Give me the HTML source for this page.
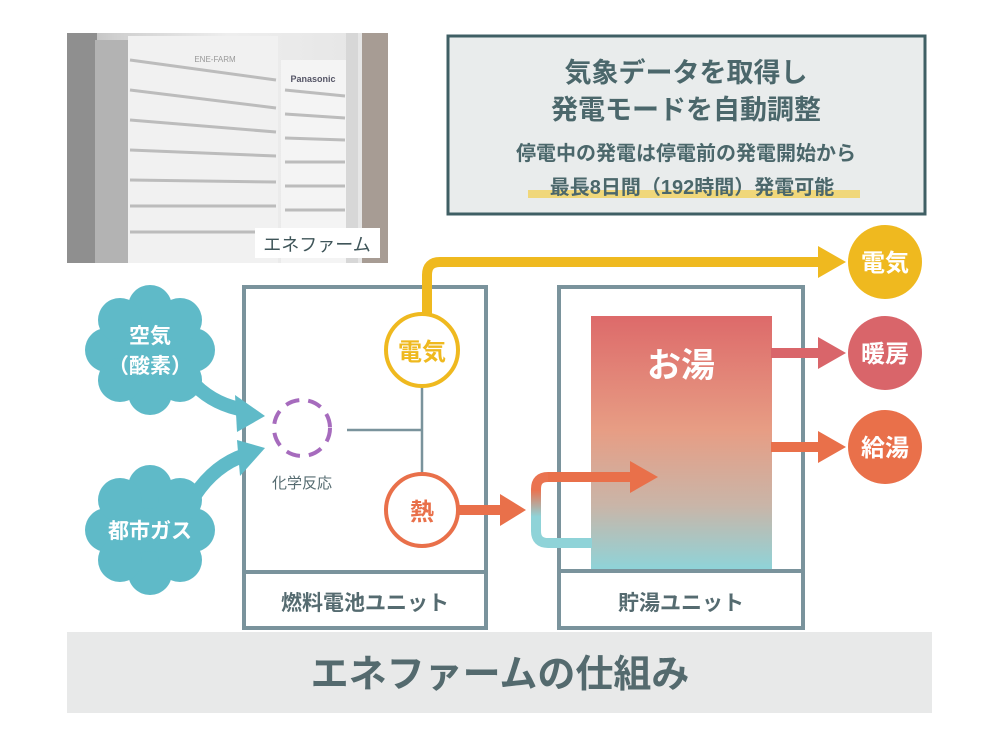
<!DOCTYPE html>
<html><head><meta charset="utf-8"><style>
html,body{margin:0;padding:0;background:#fff;width:1000px;height:749px;overflow:hidden}
svg text{font-family:"Liberation Sans","Noto Sans CJK JP",sans-serif;font-weight:bold}
</style></head><body>
<svg width="1000" height="749" viewBox="0 0 1000 749" xmlns="http://www.w3.org/2000/svg">
<defs>
<linearGradient id="tank" x1="0" y1="0" x2="0" y2="1">
<stop offset="0" stop-color="#dd6a6a"/><stop offset="0.45" stop-color="#e79d84"/><stop offset="0.75" stop-color="#c9b5a8"/><stop offset="1" stop-color="#8fd3d8"/>
</linearGradient>
<linearGradient id="loop" x1="0" y1="0" x2="0" y2="1">
<stop offset="0.2" stop-color="#ea7350"/><stop offset="0.6" stop-color="#8fd3d8"/>
</linearGradient>
<linearGradient id="photo" x1="0" y1="0" x2="1" y2="0">
<stop offset="0" stop-color="#b8b8b8"/><stop offset="0.15" stop-color="#cfcfcf"/><stop offset="0.5" stop-color="#eeeeee"/><stop offset="1" stop-color="#e4e4e4"/>
</linearGradient>
</defs>

<rect x="67" y="33" width="321" height="230" fill="url(#photo)"/>
<rect x="67" y="33" width="30" height="230" fill="#8f8f8f"/>
<rect x="95" y="40" width="35" height="223" fill="#b3b3b3"/>
<rect x="128" y="36" width="150" height="227" fill="#f1f1f1"/>
<rect x="281" y="60" width="66" height="203" fill="#f4f4f4"/>
<rect x="346" y="33" width="12" height="230" fill="#d7d7d7"/>
<rect x="362" y="33" width="26" height="230" fill="#a79c94"/>
<g stroke="#bcbcbc" stroke-width="3">
<line x1="130" y1="60" x2="276" y2="80"/><line x1="130" y1="90" x2="276" y2="108"/><line x1="130" y1="120" x2="276" y2="132"/>
<line x1="130" y1="150" x2="276" y2="156"/><line x1="130" y1="180" x2="276" y2="182"/><line x1="130" y1="206" x2="276" y2="206"/><line x1="130" y1="232" x2="276" y2="232"/>
<line x1="285" y1="90" x2="345" y2="96"/><line x1="285" y1="114" x2="345" y2="118"/><line x1="285" y1="138" x2="345" y2="140"/><line x1="285" y1="162" x2="345" y2="162"/><line x1="285" y1="186" x2="345" y2="186"/><line x1="285" y1="210" x2="345" y2="210"/><line x1="285" y1="234" x2="345" y2="234"/>
</g>
<text x="215" y="62" font-size="8" fill="#999" text-anchor="middle" style="font-weight:normal">ENE-FARM</text>
<text x="313" y="82" font-size="9" fill="#556" text-anchor="middle">Panasonic</text>
<rect x="255" y="228" width="125" height="30" fill="#fff"/>
<text x="317" y="251" font-size="18" fill="#3f5559" text-anchor="middle" style="font-weight:normal">エネファーム</text>

<rect x="448" y="36" width="477" height="178" fill="#e9ecec" stroke="#3f5f64" stroke-width="3"/>
<rect x="528" y="190" width="332" height="8" fill="#f0d77a"/>
<g fill="#4b676b" text-anchor="middle">
<text x="686" y="82" font-size="27">気象データを取得し</text>
<text x="686" y="119" font-size="27">発電モードを自動調整</text>
<text x="686" y="160" font-size="20">停電中の発電は停電前の発電開始から</text>
<text x="692" y="194" font-size="20">最長8日間（192時間）発電可能</text>
</g>

<rect x="244" y="287" width="242" height="341" fill="#fff" stroke="#7a939c" stroke-width="4"/>
<line x1="244" y1="572" x2="486" y2="572" stroke="#7a939c" stroke-width="4"/>
<text x="365" y="610" font-size="21" fill="#556b70" text-anchor="middle">燃料電池ユニット</text>
<rect x="559" y="287" width="244" height="341" fill="#fff" stroke="#7a939c" stroke-width="4"/>
<line x1="559" y1="571" x2="803" y2="571" stroke="#7a939c" stroke-width="4"/>
<text x="681" y="610" font-size="21" fill="#556b70" text-anchor="middle">貯湯ユニット</text>
<rect x="591" y="316" width="181" height="253" fill="url(#tank)"/>
<text x="681" y="377" font-size="34" fill="#fff" text-anchor="middle">お湯</text>

<rect x="67" y="632" width="865" height="81" fill="#e8e9e9"/>
<text x="500" y="687" font-size="38" fill="#546a6e" text-anchor="middle">エネファームの仕組み</text>

<path d="M427 318 V275 Q427 262 440 262 H822" fill="none" stroke="#efb91f" stroke-width="10"/>
<polygon points="818,246 846,262 818,278" fill="#efb91f"/>
<circle cx="885" cy="262" r="37" fill="#efb91f"/>
<text x="885" y="271" font-size="24" fill="#fff" text-anchor="middle">電気</text>

<line x1="422" y1="387" x2="422" y2="473" stroke="#7a939c" stroke-width="2.5"/>
<line x1="347" y1="430" x2="422" y2="430" stroke="#7a939c" stroke-width="2.5"/>
<circle cx="302" cy="428" r="28" fill="none" stroke="#a66bbd" stroke-width="4" stroke-dasharray="14 9"/>
<text x="302" y="488" font-size="15" fill="#556b70" text-anchor="middle" style="font-weight:normal">化学反応</text>

<circle cx="422" cy="350" r="36" fill="#fff" stroke="#efb91f" stroke-width="4"/>
<text x="422" y="360" font-size="24" fill="#efb91f" text-anchor="middle">電気</text>
<circle cx="422" cy="510" r="36" fill="#fff" stroke="#e9704a" stroke-width="4"/>
<text x="422" y="520" font-size="24" fill="#e9704a" text-anchor="middle">熱</text>

<line x1="458" y1="510" x2="505" y2="510" stroke="#e9704a" stroke-width="10"/>
<polygon points="500,494 526,510 500,526" fill="#e9704a"/>

<path d="M592 543 H548 Q536 543 536 531 V489 Q536 477 548 477 H635" fill="none" stroke="url(#loop)" stroke-width="10"/>
<path d="M548 477 H635" stroke="#e9704a" stroke-width="10"/>
<polygon points="630,461 658,477 630,493" fill="#e9704a"/>

<line x1="771" y1="353" x2="822" y2="353" stroke="#d9656a" stroke-width="10"/>
<polygon points="818,337 846,353 818,369" fill="#d9656a"/>
<circle cx="885" cy="353" r="37" fill="#d9656a"/>
<text x="885" y="362" font-size="24" fill="#fff" text-anchor="middle">暖房</text>
<line x1="771" y1="447" x2="822" y2="447" stroke="#e9704a" stroke-width="10"/>
<polygon points="818,431 846,447 818,463" fill="#e9704a"/>
<circle cx="885" cy="447" r="37" fill="#e9704a"/>
<text x="885" y="456" font-size="24" fill="#fff" text-anchor="middle">給湯</text>

<g fill="#5fbac8">
<circle cx="150" cy="350" r="46"/>
<circle cx="150" cy="307" r="22"/><circle cx="150" cy="393" r="22"/>
<circle cx="107" cy="350" r="22"/><circle cx="193" cy="350" r="22"/>
<circle cx="120" cy="320" r="22"/><circle cx="180" cy="320" r="22"/>
<circle cx="120" cy="380" r="22"/><circle cx="180" cy="380" r="22"/>
<circle cx="150" cy="530" r="46"/>
<circle cx="150" cy="487" r="22"/><circle cx="150" cy="573" r="22"/>
<circle cx="107" cy="530" r="22"/><circle cx="193" cy="530" r="22"/>
<circle cx="120" cy="500" r="22"/><circle cx="180" cy="500" r="22"/>
<circle cx="120" cy="560" r="22"/><circle cx="180" cy="560" r="22"/>
</g>
<path d="M195 385 Q215 405 245 410" fill="none" stroke="#5fbac8" stroke-width="14"/>
<polygon points="235,395 265,416 237,432" fill="#5fbac8"/>
<path d="M195 495 Q215 465 245 455" fill="none" stroke="#5fbac8" stroke-width="14"/>
<polygon points="237,440 265,448 240,476" fill="#5fbac8"/>
<g fill="#fff" text-anchor="middle">
<text x="150" y="343" font-size="21">空気</text>
<text x="150" y="373" font-size="21">（酸素）</text>
<text x="150" y="538" font-size="21">都市ガス</text>
</g>
</svg>
</body></html>
